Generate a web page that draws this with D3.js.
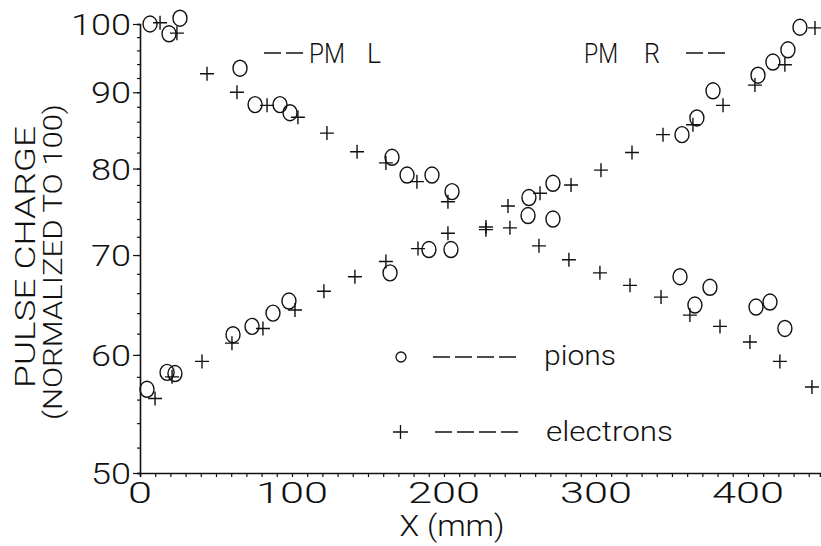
<!DOCTYPE html>
<html><head><meta charset="utf-8">
<script src="https://cdn.jsdelivr.net/npm/d3@7"></script>
<style>
html,body{margin:0;padding:0;background:#fff;}
svg{display:block;}
text{font-family:"Roboto","DejaVu Sans",sans-serif;font-weight:300;fill:#111;}
</style></head>
<body>
<svg id="c" width="821" height="546"></svg>
<script>
// ---- data (X in mm, pulse charge normalized to 100) ----
const pionsL_x = [6.6, 19.1, 26.3, 65.8, 75.7, 92.1, 98.7, 165.8, 175.7, 192.1, 205.3, 255.3, 271.7, 355.3, 365.1, 375.0, 405.3, 414.5, 424.3];
const pionsL_y = [100.0, 98.5, 100.9, 93.4, 88.3, 88.3, 87.2, 81.4, 79.2, 79.2, 77.2, 74.4, 74.0, 67.7, 64.8, 66.6, 64.6, 65.1, 62.5];
const pionsR_x = [4.6, 17.8, 23.0, 61.2, 73.7, 87.5, 98.0, 164.5, 190.1, 204.6, 255.9, 271.7, 356.6, 366.4, 377.0, 406.6, 416.4, 426.3, 434.2];
const pionsR_y = [56.9, 58.4, 58.3, 61.9, 62.7, 64.0, 65.2, 68.1, 70.6, 70.6, 76.5, 78.2, 84.3, 86.5, 90.2, 92.4, 94.3, 96.1, 99.5];
const electronsL_x = [13.2, 24.3, 44.1, 63.8, 83.6, 103.9, 123.0, 142.8, 161.8, 182.2, 202.6, 227.6, 243.4, 262.5, 282.2, 302.6, 322.4, 342.8, 361.8, 381.6, 401.3, 421.0, 442.1];
const electronsL_y = [100.2, 98.6, 92.6, 90.0, 88.2, 86.6, 84.5, 82.1, 80.7, 78.4, 76.0, 72.8, 73.0, 71.0, 69.5, 68.1, 66.8, 65.6, 63.8, 62.7, 61.2, 59.4, 57.1];
const electronsR_x = [9.9, 21.1, 40.8, 60.5, 80.9, 102.0, 121.0, 141.4, 161.8, 182.9, 202.6, 227.6, 242.1, 263.2, 283.6, 303.3, 323.7, 344.1, 363.8, 383.6, 404.6, 424.3, 444.1];
const electronsR_y = [56.1, 58.0, 59.4, 61.1, 62.5, 64.3, 66.2, 67.7, 69.3, 70.7, 72.4, 73.1, 75.5, 77.0, 78.0, 79.8, 82.0, 84.3, 85.6, 88.2, 91.0, 93.9, 99.4];
const xTicks = [0, 100, 200, 300, 400];
const yTicks = [50, 60, 70, 80, 90, 100];
const xLabel = "X  (mm)";
const yLabel1 = "PULSE CHARGE";
const yLabel2 = "(NORMALIZED TO 100)";

const svg = d3.select("#c");
const x = d3.scaleLinear().domain([0, 447.4]).range([140, 820]);
const y = d3.scaleLog().domain([50, 100]).range([473, 24]);
const ink = "#111";

// axes
const xAxis = d3.axisBottom(x).tickValues(d3.range(0, 441, 10)).tickSize(4).tickFormat("");
const gx = svg.append("g").attr("transform", "translate(0,473)").call(xAxis);
const yAxis = d3.axisLeft(y).tickValues(d3.range(50, 101, 2)).tickSize(3).tickFormat("");
const gy = svg.append("g").attr("transform", "translate(140,0)").call(yAxis);
const yMaj = d3.axisLeft(y).tickValues(yTicks).tickSize(7).tickFormat("");
const gy2 = svg.append("g").attr("transform", "translate(140,0)").call(yMaj);
[gx, gy, gy2].forEach(g => {
  g.select(".domain").attr("stroke", ink).attr("stroke-width", 1.6);
  g.selectAll(".tick line").attr("stroke", ink).attr("stroke-width", 1.2);
});
gy2.select(".domain").remove();

// tick labels
svg.append("g").selectAll("text").data(yTicks).join("text")
  .attr("x", 131).attr("y", d => y(d) + 11)
  .attr("text-anchor", "end").attr("font-size", 30)
  .attr("textLength", d => String(d).length * 20).attr("lengthAdjust", "spacingAndGlyphs")
  .text(d => d);
svg.append("g").selectAll("text").data(xTicks).join("text")
  .attr("x", d => x(d)).attr("y", 503)
  .attr("text-anchor", "middle").attr("font-size", 29)
  .attr("textLength", d => String(d).length * 24).attr("lengthAdjust", "spacingAndGlyphs")
  .text(d => d);

// axis titles
svg.append("text").attr("x", 452).attr("y", 536).attr("text-anchor", "middle")
  .attr("font-size", 29).attr("textLength", 105).attr("lengthAdjust", "spacingAndGlyphs")
  .text(xLabel);
svg.append("text").attr("transform", "translate(35,257) rotate(-90)").attr("text-anchor", "middle")
  .attr("font-size", 28).attr("textLength", 262).attr("lengthAdjust", "spacingAndGlyphs")
  .text(yLabel1);
svg.append("text").attr("transform", "translate(62,262) rotate(-90)").attr("text-anchor", "middle")
  .attr("font-size", 26).attr("textLength", 316).attr("lengthAdjust", "spacingAndGlyphs")
  .text(yLabel2);

// markers
function circles(xs, ys) {
  svg.append("g").selectAll("ellipse").data(xs.map((v, i) => [v, ys[i]])).join("ellipse")
    .attr("cx", d => x(d[0])).attr("cy", d => y(d[1])).attr("rx", 7).attr("ry", 8)
    .attr("fill", "none").attr("stroke", ink).attr("stroke-width", 1.4);
}
function pluses(xs, ys) {
  svg.append("g").selectAll("path").data(xs.map((v, i) => [v, ys[i]])).join("path")
    .attr("d", d => { const cx = x(d[0]), cy = y(d[1]);
      return `M${cx-7},${cy}H${cx+7}M${cx},${cy-7}V${cy+7}`; })
    .attr("fill", "none").attr("stroke", ink).attr("stroke-width", 1.4);
}
circles(pionsL_x, pionsL_y);
circles(pionsR_x, pionsR_y);
pluses(electronsL_x, electronsL_y);
pluses(electronsR_x, electronsR_y);

// annotations PM L / PM R
function dashes(x0, yy, n, len, gap) {
  const g = svg.append("g");
  for (let i = 0; i < n; i++) {
    g.append("line").attr("x1", x0 + i * (len + gap)).attr("x2", x0 + i * (len + gap) + len)
      .attr("y1", yy).attr("y2", yy).attr("stroke", ink).attr("stroke-width", 1.5);
  }
}
dashes(264, 53, 2, 17, 5);
svg.append("text").attr("x", 309).attr("y", 63).attr("font-size", 28)
  .attr("textLength", 36).attr("lengthAdjust", "spacingAndGlyphs").text("PM");
svg.append("text").attr("x", 367).attr("y", 63).attr("font-size", 28)
  .attr("textLength", 14).attr("lengthAdjust", "spacingAndGlyphs").text("L");
svg.append("text").attr("x", 584).attr("y", 63).attr("font-size", 28)
  .attr("textLength", 34).attr("lengthAdjust", "spacingAndGlyphs").text("PM");
svg.append("text").attr("x", 644).attr("y", 63).attr("font-size", 28)
  .attr("textLength", 16).attr("lengthAdjust", "spacingAndGlyphs").text("R");
dashes(686, 53, 2, 17, 5);

// legend
svg.append("ellipse").attr("cx", 401).attr("cy", 357).attr("rx", 5).attr("ry", 5)
  .attr("fill", "none").attr("stroke", ink).attr("stroke-width", 1.3);
dashes(433, 357, 4, 17, 5);
svg.append("text").attr("x", 544).attr("y", 365).attr("font-size", 28)
  .attr("textLength", 72).attr("lengthAdjust", "spacingAndGlyphs").text("pions");
svg.append("path").attr("d", "M393,432H408M400.5,425V439").attr("stroke", ink).attr("stroke-width", 1.3);
dashes(435, 432, 4, 17, 5);
svg.append("text").attr("x", 546).attr("y", 441).attr("font-size", 28)
  .attr("textLength", 127).attr("lengthAdjust", "spacingAndGlyphs").text("electrons");
</script>
</body></html>
